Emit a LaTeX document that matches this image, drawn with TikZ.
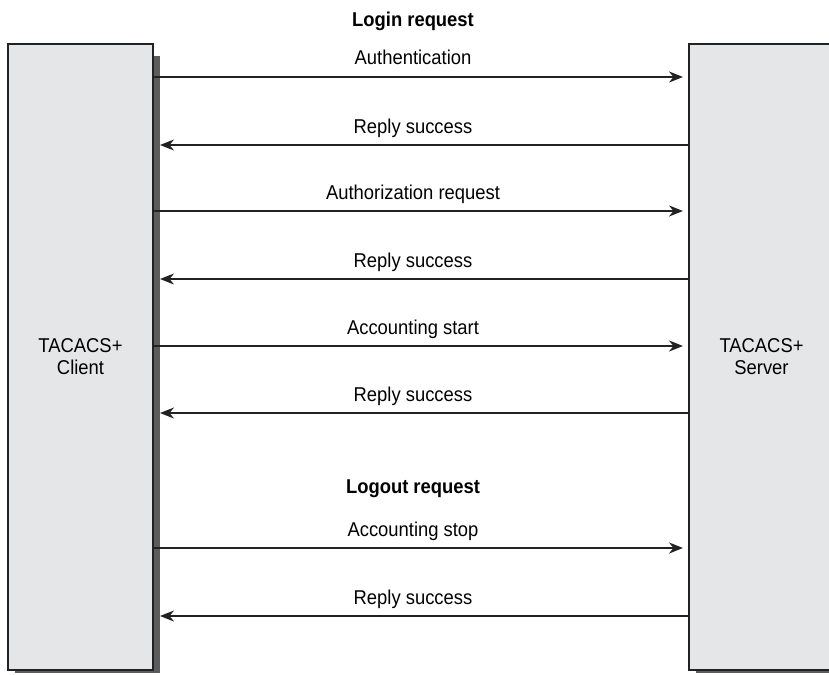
\documentclass[tikz,border=0pt]{standalone}
\usepackage{fontspec}
\setmainfont[FakeStretch=0.92]{Liberation Sans}
\usepackage{tikz}
\usetikzlibrary{arrows.meta}
\usetikzlibrary{backgrounds}
\usepackage{color}
\definecolor{boxgray}{HTML}{E5E6E8}
\definecolor{shadowgray}{HTML}{5C5C5C}
\definecolor{linegray}{HTML}{222222}

\begin{document}
\begin{tikzpicture}
    [x=1pt,y=-1pt,
hostnode/.style={rectangle, draw=linegray, fill=boxgray, line width=1.6pt, outer sep=0pt, minimum width=145pt, minimum height=626pt, align=center, font=\fontsize{20}{22}\selectfont},
tomsg/.style={draw=linegray, line width=1.8pt, shorten >=6pt, -{Stealth[length=14pt,width=11pt,inset=4.5pt]}},
frommsg/.style={draw=linegray, line width=1.8pt, shorten >=7pt, -{Stealth[length=14pt,width=11pt,inset=4.5pt]}},
msglabel/.style={anchor=base, yshift=12pt, xshift=-8pt, font=\fontsize{20}{22}\selectfont},
phaselabel/.style={anchor=base, font=\bfseries\fontsize{20}{22}\selectfont}
]
\useasboundingbox (0,0) rectangle (829,674);
\node[hostnode](client) at (80.5,357){TACACS+\\Client};
\node[hostnode](server) at (761.5,357){TACACS+\\Server};
\begin{scope}[on background layer]
\fill[shadowgray] ([xshift=7pt,yshift=-12pt]client.north west) rectangle ([xshift=7pt,yshift=-3pt]client.south east);
\fill[shadowgray] ([xshift=7pt,yshift=-12pt]server.north west) rectangle ([xshift=7pt,yshift=-3pt]server.south east);
\end{scope}

\node[phaselabel](login) at (413,27){Login request};
\node[phaselabel](logout) at (413,493){Logout request};

\draw[tomsg] (client.east |- 0,77) to node [msglabel] {Authentication} (server.west |- 0,77);
\draw[frommsg] (server.west |- 0,145) to node [msglabel] {Reply success} (client.east |- 0,145);
\draw[tomsg] (client.east |- 0,211) to node [msglabel] {Authorization request} (server.west |- 0,211);
\draw[frommsg] (server.west |- 0,279) to node [msglabel] {Reply success} (client.east |- 0,279);
\draw[tomsg] (client.east |- 0,346) to node [msglabel] {Accounting start} (server.west |- 0,346);
\draw[frommsg] (server.west |- 0,413) to node [msglabel] {Reply success} (client.east |- 0,413);
\draw[tomsg] (client.east |- 0,548) to node [msglabel] {Accounting stop} (server.west |- 0,548);
\draw[frommsg] (server.west |- 0,616) to node [msglabel] {Reply success} (client.east |- 0,616);
\end{tikzpicture}
\end{document}
